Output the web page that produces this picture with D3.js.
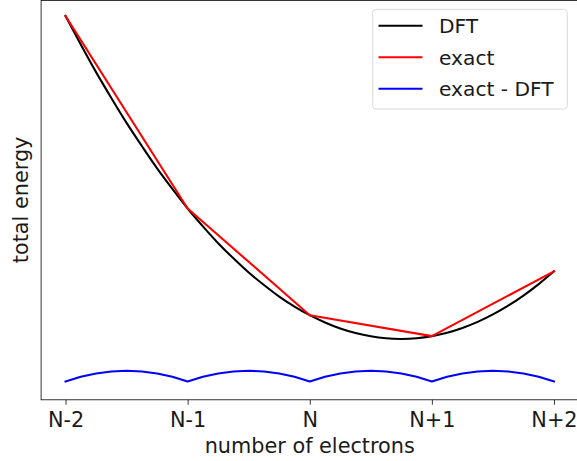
<!DOCTYPE html>
<html>
<head>
<meta charset="utf-8">
<script src="https://cdn.jsdelivr.net/npm/d3@7"></script>
<style>
  html, body { margin: 0; padding: 0; background: #fff; }
  svg { display: block; font-family: "DejaVu Sans", sans-serif; }
</style>
</head>
<body>
<svg id="chart" width="577" height="461"></svg>
<script>
// Electron counts relative to N, and their tick labels
const electronCounts = [-2, -1, 0, 1, 2];
const tickLabels = ["N-2", "N-1", "N", "N+1", "N+2"];

// Exact total energy: straight segments between integer electron numbers
const exactEnergy = [36.65, 17.35, 6.65, 4.55, 11.05];

// DFT total energy sampled every 1/8 electron (smooth curve)
const gridN = [
  -2, -1.875, -1.75, -1.625, -1.5, -1.375, -1.25, -1.125,
  -1, -0.875, -0.75, -0.625, -0.5, -0.375, -0.25, -0.125,
   0,  0.125,  0.25,  0.375,  0.5,  0.625,  0.75,  0.875,
   1,  1.125,  1.25,  1.375,  1.5,  1.625,  1.75,  1.875, 2
];
const dftEnergy = [
  36.65, 33.79, 31.02, 28.43, 25.93, 23.61, 21.37, 19.31,
  17.35, 15.56, 13.87, 12.35, 10.93, 9.68, 8.52, 7.52,
  6.65, 5.92, 5.32, 4.86, 4.53, 4.33, 4.27, 4.34,
  4.55, 4.89, 5.37, 5.98, 6.73, 7.61, 8.62, 9.77, 11.05
];
// exact - DFT on the same grid
const diffEnergy = [
  0, 0.47, 0.81, 1.01, 1.08, 1.01, 0.81, 0.47,
  0, 0.47, 0.81, 1.01, 1.08, 1.01, 0.81, 0.47,
  0, 0.47, 0.81, 1.01, 1.08, 1.01, 0.81, 0.47,
  0, 0.47, 0.81, 1.01, 1.08, 1.01, 0.81, 0.47, 0
];

const seriesNames = ["DFT", "exact", "exact - DFT"];
const seriesColors = ["#000000", "#ff0000", "#0000ff"];

const svg = d3.select("#chart");
const plot = { left: 41.1, right: 578.4, top: -2.3, bottom: 399.8 };
const lw = 2.08;

// Matplotlib-style 5% padding around the data
const xPad = (d3.max(electronCounts) - d3.min(electronCounts)) * 0.05;
const x = d3.scaleLinear()
  .domain([d3.min(electronCounts) - xPad, d3.max(electronCounts) + xPad])
  .range([plot.left, plot.right]);

const yMin = d3.min(diffEnergy), yMax = d3.max(exactEnergy);
const yPad = (yMax - yMin) * 0.05;
const y = d3.scaleLinear()
  .domain([yMin - yPad, yMax + yPad])
  .range([plot.bottom, plot.top]);

const lineGen = d3.line().x(d => x(d[0])).y(d => y(d[1]));

// DFT curve
svg.append("path")
  .datum(d3.zip(gridN, dftEnergy))
  .attr("d", lineGen.curve(d3.curveCatmullRom))
  .attr("fill", "none").attr("stroke", seriesColors[0])
  .attr("stroke-width", lw).attr("stroke-linejoin", "round").attr("stroke-linecap", "square");

// exact piecewise-linear energy
svg.append("path")
  .datum(d3.zip(electronCounts, exactEnergy))
  .attr("d", d3.line().x(d => x(d[0])).y(d => y(d[1])))
  .attr("fill", "none").attr("stroke", seriesColors[1])
  .attr("stroke-width", lw).attr("stroke-linejoin", "round").attr("stroke-linecap", "square");

// exact - DFT
svg.append("path")
  .datum(d3.zip(gridN, diffEnergy))
  .attr("d", d3.line().x(d => x(d[0])).y(d => y(d[1])))
  .attr("fill", "none").attr("stroke", seriesColors[2])
  .attr("stroke-width", lw).attr("stroke-linejoin", "round").attr("stroke-linecap", "square");

// Frame
const frameTop = Math.max(plot.top, 0.4);
svg.append("rect")
  .attr("x", plot.left).attr("y", frameTop)
  .attr("width", plot.right - plot.left).attr("height", plot.bottom - frameTop)
  .attr("fill", "none").attr("stroke", "#000").attr("stroke-width", 0.8);

// X axis
const xAxis = svg.append("g")
  .attr("transform", `translate(0,${plot.bottom})`)
  .call(d3.axisBottom(x).tickValues(electronCounts)
    .tickFormat((d, i) => tickLabels[i]).tickSize(4.9).tickSizeOuter(0));
xAxis.select(".domain").remove();
xAxis.selectAll(".tick line").attr("stroke", "#000").attr("stroke-width", 0.8);
xAxis.selectAll(".tick text")
  .attr("y", 27.3).attr("dy", null)
  .attr("font-size", "20.8px").attr("fill", "#1a1a1a")
  .attr("font-family", "DejaVu Sans");

// Axis titles
svg.append("text")
  .attr("x", (plot.left + plot.right) / 2).attr("y", 452.5)
  .attr("text-anchor", "middle").attr("font-size", "20.8px").attr("fill", "#1a1a1a")
  .text("number of electrons");
svg.append("text")
  .attr("transform", `translate(28.3,${(plot.bottom + 0) / 2}) rotate(-90)`)
  .attr("text-anchor", "middle").attr("font-size", "20.8px").attr("fill", "#1a1a1a")
  .text("total energy");

// Legend
const legend = svg.append("g");
legend.append("rect")
  .attr("x", 372.7).attr("y", 9.3).attr("width", 194.6).attr("height", 99.7)
  .attr("rx", 3.5).attr("fill", "#fff").attr("fill-opacity", 0.8)
  .attr("stroke", "#d0d0d0").attr("stroke-width", 0.8);
seriesNames.forEach((name, i) => {
  const cy = 25.7 + i * 31.5;
  legend.append("line")
    .attr("x1", 378.5).attr("x2", 422.5).attr("y1", cy).attr("y2", cy)
    .attr("stroke", seriesColors[i]).attr("stroke-width", lw);
  legend.append("text")
    .attr("x", 439).attr("y", cy + 7.3)
    .attr("font-size", "20.2px").attr("fill", "#1a1a1a")
    .text(name);
});
</script>
</body>
</html>
